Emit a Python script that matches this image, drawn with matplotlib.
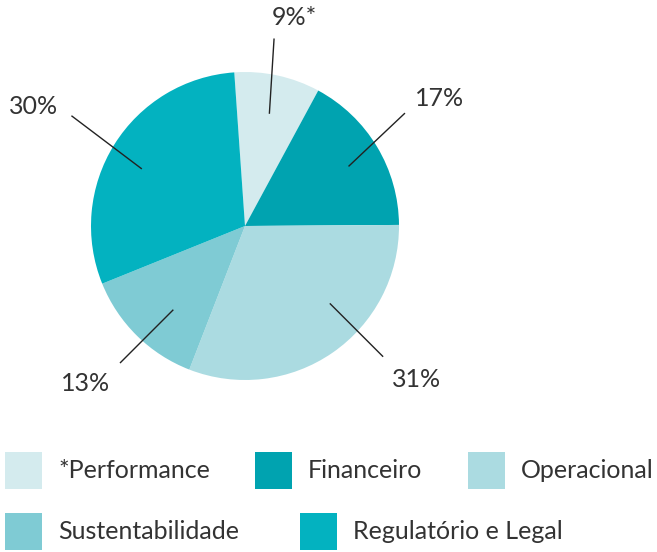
import numpy as np
import matplotlib
matplotlib.use('Agg')
import matplotlib.pyplot as plt
from matplotlib.patches import Rectangle

plt.rcParams['font.family'] = ['Lato', 'DejaVu Sans']

# data
categories = ['*Performance', 'Financeiro', 'Operacional', 'Sustentabilidade', 'Regulatório e Legal']
values = [9, 17, 31, 13, 30]
pct_labels = ['9%*', '17%', '31%', '13%', '30%']
colors = ['#d4ebee', '#00a3b0', '#abdbe1', '#7fcbd4', '#03b2c0']

W, H = 657, 552
fig = plt.figure(figsize=(W / 100, H / 100), dpi=100)

# axes cover the whole figure, 1 unit = pie radius (154 px), pie centre at (245, 226) px from top-left
R = 154.0
cx, cy = 245.0, 226.0
ax = fig.add_axes([0, 0, 1, 1])

start = 94
wedges, _ = ax.pie(values, colors=colors, startangle=start, counterclock=False,
                   radius=1, wedgeprops=dict(linewidth=0))
ax.set_xlim(-cx / R, (W - cx) / R)
ax.set_ylim(-(H - cy) / R, cy / R)
ax.set_aspect('equal')
ax.axis('off')

textcol = '#333333'
fs = 18

# leader line layout: (angle tweak deg, inner radius, line dx, line dy, text dx px, text dy px, ha)
leader = {
    '9%*': (0, 0.75, 0.03, 0.48, -2, 22, 'left'),
    '17%': (-1, 0.78, 0.36, 0.34, 10, 15, 'left'),
    '31%': (13, 0.75, 0.34, -0.34, 9, -23, 'left'),
    '13%': (4, 0.72, -0.34, -0.34, -10, -21, 'right'),
    '30%': (3, 0.77, -0.45, 0.34, -14, 10, 'right'),
}

for w, lab in zip(wedges, pct_labels):
    tweak, rin, ldx, ldy, tdx, tdy, ha = leader[lab]
    ang = np.deg2rad((w.theta1 + w.theta2) / 2 + tweak)
    x0, y0 = rin * np.cos(ang), rin * np.sin(ang)
    x1, y1 = x0 + ldx, y0 + ldy
    ax.plot([x0, x1], [y0, y1], color='#222222', lw=1)
    ax.text(x1 + tdx / R, y1 + tdy / R, lab, ha=ha, va='center', fontsize=fs,
            color=textcol)

# legend drawn by hand
leg_pos = [(5, 452), (255, 452), (468, 452), (5, 513), (300, 513)]
sq = 37
for (px, py), col, name in zip(leg_pos, colors, categories):
    fig.add_artist(Rectangle((px / W, 1 - (py + sq) / H), sq / W, sq / H,
                             transform=fig.transFigure, facecolor=col, edgecolor='none'))
    fig.text((px + sq + 16) / W, 1 - (py + sq / 2) / H, name, ha='left', va='center',
             fontsize=fs, color=textcol)

fig.savefig('out.png', dpi=100)
